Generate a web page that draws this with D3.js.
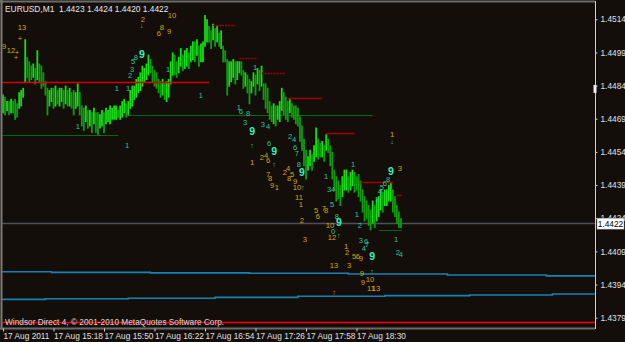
<!DOCTYPE html>
<html><head><meta charset="utf-8">
<script src="https://cdn.jsdelivr.net/npm/d3@7"></script>
<style>
html,body{margin:0;padding:0;background:#140e0a;}
svg{display:block;}
text{font-family:"Liberation Sans",Arial,sans-serif;}
</style></head>
<body>
<svg id="c" width="625" height="342"></svg>
<script>
// ---------- DATA ----------
const symbolTitle = "EURUSD,M1  1.4423 1.4424 1.4420 1.4422";
const footer = "Windsor Direct 4, \u00a9 2001-2010 MetaQuotes Software Corp.";
const xTickIdx = [0, 25, 50, 75, 100, 125, 150, 175];
const xTickLabels = ["17 Aug 2011","17 Aug 15:18","17 Aug 15:50","17 Aug 16:22","17 Aug 16:54","17 Aug 17:26","17 Aug 17:58","17 Aug 18:30"];
const yTickValues = [1.4514,1.4499,1.4484,1.4469,1.4454,1.4439,1.4424,1.4409,1.4394,1.4379];

const barHigh = [1.4480,1.4479,1.4477,1.4477,1.4478,1.4477,1.4478,1.4476,1.4481,1.4482,
1.4483,1.4505,1.4497,1.4495,1.4493,1.4494,1.4492,1.4500,1.4494,1.4493,
1.4490,1.4486,1.4483,1.4482,1.4483,1.4483,1.4484,1.4482,1.4483,1.4483,
1.4482,1.4484,1.4482,1.4483,1.4481,1.4482,1.4481,1.4485,1.4481,1.4475,
1.4474,1.4475,1.4473,1.4473,1.4472,1.4474,1.4472,1.4472,1.4471,1.4473,
1.4472,1.4474,1.4473,1.4475,1.4474,1.4475,1.4475,1.4473,1.4475,1.4477,
1.4478,1.4476,1.4477,1.4482,1.4484,1.4484,1.4487,1.4488,1.4490,1.4493,
1.4492,1.4494,1.4498,1.4496,1.4493,1.4491,1.4490,1.4487,1.4486,1.4487,
1.4485,1.4486,1.4487,1.4495,1.4499,1.4498,1.4495,1.4497,1.4501,1.4498,
1.4500,1.4501,1.4499,1.4502,1.4504,1.4504,1.4505,1.4502,1.4503,1.4504,
1.4516,1.4514,1.4511,1.4509,1.4512,1.4510,1.4511,1.4508,1.4509,1.4502,
1.4500,1.4496,1.4495,1.4495,1.4496,1.4495,1.4495,1.4495,1.4495,1.4491,
1.4490,1.4489,1.4487,1.4486,1.4490,1.4489,1.4492,1.4491,1.4493,1.4485,
1.4485,1.4483,1.4477,1.4475,1.4476,1.4475,1.4475,1.4477,1.4483,1.4481,
1.4479,1.4477,1.4478,1.4476,1.4475,1.4475,1.4474,1.4470,1.4466,1.4460,
1.4455,1.4452,1.4455,1.4453,1.4457,1.4465,1.4460,1.4458,1.4459,1.4457,
1.4462,1.4460,1.4457,1.4454,1.4446,1.4443,1.4441,1.4439,1.4443,1.4446,
1.4446,1.4443,1.4445,1.4446,1.4445,1.4443,1.4444,1.4441,1.4437,1.4434,
1.4432,1.4430,1.4428,1.4432,1.4430,1.4433,1.4434,1.4437,1.4436,1.4437,
1.4437,1.4439,1.4440,1.4437,1.4434,1.4430,1.4427,1.4424];
const barLow = [1.4472,1.4471,1.4473,1.4471,1.4472,1.4472,1.4469,1.4470,1.4474,1.4475,
1.4479,1.4486,1.4488,1.4486,1.4487,1.4488,1.4485,1.4487,1.4486,1.4483,
1.4484,1.4480,1.4471,1.4475,1.4477,1.4474,1.4475,1.4476,1.4475,1.4477,
1.4474,1.4476,1.4475,1.4475,1.4474,1.4471,1.4474,1.4475,1.4471,1.4466,
1.4464,1.4468,1.4465,1.4466,1.4463,1.4467,1.4463,1.4462,1.4465,1.4466,
1.4463,1.4467,1.4468,1.4467,1.4469,1.4469,1.4469,1.4470,1.4469,1.4470,
1.4472,1.4470,1.4471,1.4474,1.4475,1.4478,1.4479,1.4481,1.4482,1.4484,
1.4486,1.4487,1.4489,1.4490,1.4486,1.4484,1.4483,1.4481,1.4479,1.4480,
1.4478,1.4477,1.4479,1.4485,1.4489,1.4489,1.4488,1.4490,1.4493,1.4491,
1.4492,1.4493,1.4492,1.4495,1.4496,1.4495,1.4498,1.4493,1.4495,1.4495,
1.4502,1.4504,1.4504,1.4501,1.4505,1.4502,1.4504,1.4502,1.4501,1.4495,
1.4495,1.4480,1.4484,1.4486,1.4488,1.4485,1.4487,1.4490,1.4489,1.4483,
1.4484,1.4481,1.4476,1.4481,1.4484,1.4480,1.4485,1.4482,1.4484,1.4478,
1.4474,1.4472,1.4469,1.4468,1.4467,1.4466,1.4469,1.4468,1.4473,1.4471,
1.4469,1.4468,1.4472,1.4470,1.4469,1.4467,1.4466,1.4459,1.4455,1.4448,
1.4442,1.4446,1.4448,1.4446,1.4450,1.4452,1.4451,1.4452,1.4452,1.4450,
1.4455,1.4454,1.4448,1.4442,1.4437,1.4432,1.4433,1.4430,1.4434,1.4437,
1.4437,1.4436,1.4437,1.4439,1.4436,1.4437,1.4434,1.4432,1.4427,1.4423,
1.4424,1.4421,1.4419,1.4422,1.4420,1.4423,1.4425,1.4428,1.4427,1.4430,
1.4430,1.4432,1.4432,1.4427,1.4425,1.4422,1.4420,1.4420];

const currentPrice = 1.4422;
const bottomLinePrice = 1.4377;
const askMarkPrice = 1.44825;

const resPrice = [1.44855, 1.45113, 1.44963, 1.44895, 1.44782, 1.44624, 1.44402, 1.44347];
const resFrom  = [-0.5, 104, 117, 128, 141, 160, 177, 195];
const resTo    = [102, 115, 126, 140, 158, 174, 193, 197.5];

const supPrice = [1.44615, 1.44705, 1.44189];
const supFrom  = [-0.5, 62, 186];
const supTo    = [57, 183, 197.5];

const upperBandIdx = [-0.5, 24, 73, 122, 171, 220, 269, 293];
const upperBandVal = [1.43998,1.43995,1.43993,1.43991,1.43988,1.43983,1.43979];
const lowerBandIdx = [-0.5, 21, 62, 105, 146, 189, 231, 272, 293];
const lowerBandVal = [1.43873,1.43876,1.43878,1.43882,1.43887,1.43890,1.43893,1.43897];

const annText  = ["13","9","12","+","+","+","2","\u2193","10","8","9","6","9","8","5","3","2","1","1","1","1","1","1","1",
"6","8","3","1","9","\u2191","1","3","4","6","9","2","4","6","\u2191","7","8","9","1","2","4","6","7","8","9",
"2","4","5","8","9","10","\u2191","11","1","2","1","1","3","4","5","5","7","8","6","1","8","9","10","2",
"9","3","8","6","5","4","1","1","\u2193","3","0","\u2191","12","3","6","7","4","1","2","4","1","2","5","6","9","9",
"13","3","\u2191","9","10","9","11","13","\u2191"];
const annIdx = [9.4,0.5,4,8.4,6.9,6.4,69.3,68.8,83.7,78.7,82.2,77.2,68.8,65.8,64.4,63.9,62.9,56.4,61.9,81.7,98,37.1,61.4,124.8,
117.8,121.3,119.8,116.8,123.3,123.3,123.3,128.7,131.2,131.7,134.2,128.2,130.2,131.2,134.2,131.2,132.2,133.2,135.6,142.1,144.1,144.6,145.5,146.5,148,
139.6,141.1,143.1,141.6,144.6,145.5,148.5,146.5,147.5,148,159.9,173.3,161.4,163.4,162.9,155,158.9,159.9,155.9,175.2,165.3,166.3,161.9,176.7,
192.1,196.5,190.6,189.1,187.6,186.6,185.1,192.6,192.6,149.5,163.4,166.3,162.9,177.2,179.7,180.2,178.7,194.6,195.5,197,169.8,170.3,173.8,175.7,177.2,182.7,
163.9,171.3,182.7,177.7,181.7,178.2,182.2,184.7,163.9];
const annPrice = [1.45101,1.45019,1.45001,1.45055,1.44992,1.44965,1.45141,1.45114,1.45159,1.45101,1.45087,1.45074,1.44983,1.44965,1.44951,1.44911,1.44884,1.44825,1.44825,1.44915,1.44793,1.44657,1.44571,1.44924,
1.44721,1.44712,1.44671,1.44739,1.44635,1.44571,1.44494,1.44666,1.44657,1.44580,1.44544,1.44517,1.44522,1.44503,1.44481,1.44440,1.44418,1.44390,1.44381,1.44608,1.44594,1.44558,1.44535,1.44485,1.44449,
1.44449,1.44463,1.44436,1.44418,1.44408,1.44381,1.44377,1.44336,1.44304,1.44232,1.44431,1.44485,1.44368,1.44368,1.44304,1.44277,1.44286,1.44277,1.44246,1.44255,1.44246,1.44223,1.44209,1.44209,
1.44454,1.44463,1.44413,1.44395,1.44377,1.44359,1.44327,1.44617,1.44589,1.44146,1.44178,1.44160,1.44155,1.44141,1.44137,1.44119,1.44101,1.44146,1.44087,1.44078,1.44110,1.44083,1.44065,1.44065,1.44056,1.44069,
1.44024,1.44024,1.44001,1.43988,1.43965,1.43947,1.43924,1.43924,1.43902];
const annKind = ["y","y","y","y","y","y","y","t","y","y","y","y","b","t","t","t","t","t","t","t","t","t","t","t",
"t","t","t","t","b","t","y","t","t","t","b","y","y","y","t","y","y","y","y","t","t","t","t","t","b",
"y","y","y","y","y","y","t","y","y","y","t","t","t","t","t","y","y","y","y","t","t","b","y","t",
"b","y","t","t","t","t","t","y","t","y","t","t","y","t","t","t","t","t","t","t","y","y","y","y","y","b",
"y","y","t","y","y","y","y","y","y"];

// ---------- DRAW ----------
const W = 625, H = 342;
const plotL = 2, plotR = 595, plotT = 2, plotB = 328;
const svg = d3.select("#c");
svg.append("rect").attr("width", W).attr("height", H).attr("fill", "#140e0a");

const x = d3.scaleLinear().domain([0, 293]).range([3, 3 + 293 * 2.02]);
const y = d3.scaleLinear().domain([1.4379, 1.4514]).range([317.7, 19.3]);

svg.append("clipPath").attr("id", "clip").append("rect")
  .attr("x", plotL).attr("y", plotT).attr("width", plotR - plotL).attr("height", plotB - plotT);
const g = svg.append("g").attr("clip-path", "url(#clip)");

// blue step bands
const stepLine = d3.line().curve(d3.curveStepAfter).x(d => x(d[0])).y(d => y(d[1]));
function bandPts(idx, vals) {
  const pts = vals.map((v, k) => [idx[k], v]);
  pts.push([idx[idx.length - 1], vals[vals.length - 1]]);
  return pts;
}
g.append("path").attr("d", stepLine(bandPts(upperBandIdx, upperBandVal)))
  .attr("fill", "none").attr("stroke", "#1583b8").attr("stroke-width", 1.6);
g.append("path").attr("d", stepLine(bandPts(lowerBandIdx, lowerBandVal)))
  .attr("fill", "none").attr("stroke", "#1583b8").attr("stroke-width", 1.6);

// current price line
g.append("line").attr("x1", plotL).attr("x2", plotR)
  .attr("y1", Math.round(y(currentPrice)) + 0.5).attr("y2", Math.round(y(currentPrice)) + 0.5)
  .attr("stroke", "#4b5058").attr("stroke-width", 1.5);

// support (green) levels
supPrice.forEach((p, k) => {
  g.append("line").attr("x1", x(supFrom[k])).attr("x2", x(supTo[k]))
    .attr("y1", Math.round(y(p)) + 0.5).attr("y2", Math.round(y(p)) + 0.5)
    .attr("stroke", "#006a10").attr("stroke-width", 1);
});

// bars
g.selectAll("line.bar").data(barHigh.map((h, i) => ({i, h, l: barLow[i]})))
  .enter().append("line").attr("class", "bar")
  .attr("x1", d => x(d.i)).attr("x2", d => x(d.i))
  .attr("y1", d => y(d.h)).attr("y2", d => y(d.l) + 1)
  .attr("stroke", d => {
    if (d.i === 0) return "#16d816";
    const prev = (barHigh[d.i - 1] + barLow[d.i - 1]) / 2;
    return (d.h + d.l) / 2 >= prev ? "#16dc16" : "#0c9c0c";
  })
  .attr("stroke-width", 1.8);

// resistance (red) levels
resPrice.forEach((p, k) => {
  const ln = g.append("line").attr("x1", x(resFrom[k])).attr("x2", x(resTo[k]))
    .attr("y1", Math.round(y(p)) + 0.5).attr("y2", Math.round(y(p)) + 0.5)
    .attr("stroke", k === 0 ? "#d80000" : "#a00000").attr("stroke-width", k === 0 ? 1.6 : 1.5);
  if (k >= 1 && k <= 3) ln.attr("stroke-dasharray", "2,1");
});

// annotations
const annColor = {y: "#d4a812", t: "#2cc79c", b: "#3cf0b8"};
g.selectAll("text.ann").data(annText.map((t, k) => ({t, i: annIdx[k], p: annPrice[k], kind: annKind[k]})))
  .enter().append("text").attr("class", "ann")
  .attr("x", d => x(d.i)).attr("y", d => y(d.p))
  .attr("text-anchor", "middle").attr("dominant-baseline", "central")
  .attr("fill", d => annColor[d.kind])
  .attr("font-size", d => d.kind === "b" ? 10.5 : 7.6)
  .attr("font-weight", d => d.kind === "b" ? "bold" : "normal")
  .text(d => d.t);

// bottom red line
svg.append("line").attr("x1", plotL).attr("x2", plotR)
  .attr("y1", Math.round(y(bottomLinePrice)) + 0.5).attr("y2", Math.round(y(bottomLinePrice)) + 0.5)
  .attr("stroke", "#ff0000").attr("stroke-width", 1.5);

// frame
svg.append("line").attr("x1", 0).attr("x2", plotR).attr("y1", 1.5).attr("y2", 1.5).attr("stroke", "#6a6a6a").attr("stroke-width", 2);
svg.append("line").attr("x1", 0).attr("x2", plotR).attr("y1", 328.5).attr("y2", 328.5).attr("stroke", "#6a6a6a").attr("stroke-width", 2);
svg.append("line").attr("x1", 1.5).attr("x2", 1.5).attr("y1", 0).attr("y2", 329.5).attr("stroke", "#7a7a7a").attr("stroke-width", 2);

// header & footer texts
svg.append("text").attr("x", 5).attr("y", 12).attr("fill", "#e6e6e6").attr("font-size", 8.4)
  .attr("xml:space", "preserve").style("white-space", "pre").text(symbolTitle);
svg.append("text").attr("x", 5).attr("y", 325).attr("fill", "#d8d8d8").attr("font-size", 8.3).text(footer);

// y axis
const yAxis = d3.axisRight(y).tickValues(yTickValues).tickFormat(d3.format(".4f")).tickSize(2).tickPadding(3);
const ya = svg.append("g").attr("transform", `translate(${plotR + 0.5},0)`).call(yAxis);
ya.select(".domain").attr("d", `M0,1V329`).attr("stroke", "#d0d0d0");
ya.selectAll(".tick line").attr("stroke", "#d0d0d0");
ya.selectAll(".tick text").attr("fill", "#e0e0e0").attr("font-size", 8.3)
  .attr("font-family", "'Liberation Sans',Arial,sans-serif");

// ask marker on axis
svg.append("rect").attr("x", plotR - 1.5).attr("y", y(askMarkPrice) - 4).attr("width", 3).attr("height", 8).attr("fill", "#f0f0f0");

// current price box
const cpY = y(currentPrice) + 1;
svg.append("rect").attr("x", 597).attr("y", cpY - 5.5).attr("width", 27).attr("height", 11)
  .attr("fill", "#ffffff").attr("stroke", "#888").attr("stroke-width", 0.5);
svg.append("text").attr("x", 610.5).attr("y", cpY).attr("text-anchor", "middle").attr("dominant-baseline", "central")
  .attr("fill", "#000").attr("font-size", 8.3).text(d3.format(".4f")(currentPrice));

// x axis
const xAxis = d3.axisBottom(x).tickValues(xTickIdx).tickFormat((d, k) => xTickLabels[k]).tickSize(3).tickPadding(2);
const xa = svg.append("g").attr("transform", `translate(0,${plotB + 0.5})`).call(xAxis);
xa.select(".domain").remove();
xa.selectAll(".tick line").attr("stroke", "#d0d0d0");
xa.selectAll(".tick text").attr("fill", "#e0e0e0").attr("font-size", 8.3)
  .attr("text-anchor", "start").attr("x", 0).attr("font-family", "'Liberation Sans',Arial,sans-serif");
</script>
</body></html>
